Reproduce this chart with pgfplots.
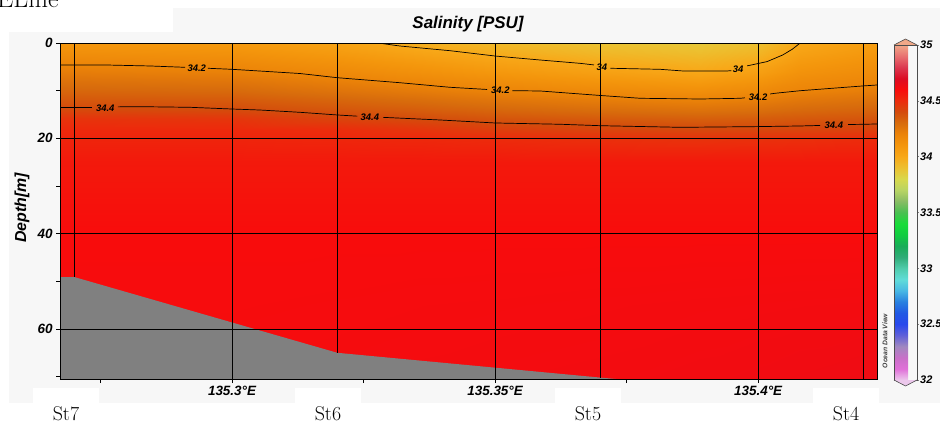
\documentclass[border=0pt]{standalone}
\usepackage{pgfplots}
\pgfplotsset{compat=1.18}
\usepackage{fontspec}
\newfontfamily\odv{Liberation Sans}
\definecolor{panel}{HTML}{F7F7F7}
\definecolor{seabed}{HTML}{808080}
\definecolor{captop}{HTML}{F0A888}
\definecolor{capbot}{HTML}{ECC8EC}
\newcommand\lblfont{\odv\bfseries\itshape}

\begin{document}
\begin{tikzpicture}[x=1bp,y=1bp]
\useasboundingbox (0,0) rectangle (940,427);
% light panel behind the section plot
\fill[panel] (9,24) rectangle (940,395);
\fill[panel] (173,395) rectangle (940,419);
\foreach \cx in {66,328,588,846}
  \fill[white] (\cx-33,24) rectangle (\cx+33,39);
\node[anchor=base west, inner sep=0, font=\fontsize{26}{28}\selectfont] at (-3,419) {ELine};

\begin{axis}[
  at={(60bp,48bp)}, anchor=south west,
  scale only axis, width=817bp, height=336bp,
  xmin=135.2673, xmax=135.4226,
  ymin=0, ymax=70.5, y dir=reverse,
  axis on top,
  colormap={odv}{
    rgb255=(236,200,236) rgb255=(224,112,216) rgb255=(200,112,200)
    rgb255=(160,136,192) rgb255=(96,96,216)   rgb255=(40,72,236)
    rgb255=(32,88,228)   rgb255=(40,128,224)  rgb255=(72,184,228)
    rgb255=(96,220,216)  rgb255=(80,204,172)  rgb255=(48,172,120)
    rgb255=(24,172,88)   rgb255=(16,204,64)   rgb255=(24,220,56)
    rgb255=(72,192,80)   rgb255=(136,188,100) rgb255=(184,212,100)
    rgb255=(216,216,76)  rgb255=(236,192,48)  rgb255=(248,168,24)
    rgb255=(244,150,12)  rgb255=(236,132,8)   rgb255=(216,108,12)
    rgb255=(212,76,12)   rgb255=(236,44,12)   rgb255=(248,12,12)
    rgb255=(220,12,36)   rgb255=(220,56,80)   rgb255=(232,112,112)
    rgb255=(240,168,136)},
  point meta min=32, point meta max=35,
  xtick={135.3,135.35,135.4},
  xticklabels={135.3°E,135.35°E,135.4°E},
  minor xtick={135.275,135.325,135.375},
  ytick={0,20,40,60}, yticklabels={0,20,40,60},
  minor ytick={10,30,50,70},
  xtick pos=bottom, ytick pos=left, tick align=outside,
  major tick length=4bp, minor tick length=4bp,
  tick style={black, line width=0.6bp},
  grid=major, major grid style={black, line width=0.8bp},
  axis line style={black, line width=0.8bp},
  ticklabel style={font=\lblfont\fontsize{13.5}{15}\selectfont},
  colorbar right,
  colorbar shift/.style={xshift=17bp, yshift=-2bp},
  colorbar style={
    name=cb,
    at={(parent axis.north east)}, anchor=north west,
    scale only axis, width=23bp, height=335bp,
    ytick={32,32.5,33,33.5,34,34.5,35},
    yticklabels={32,32.5,33,33.5,34,34.5,35},
    minor ytick={}, grid=none,
    ytick pos=right, yticklabel pos=right, tick align=outside,
    major tick length=2bp, tick style={black!50, line width=0.5bp},
    axis line style={black!70, line width=0.6bp},
    yticklabel style={font=\lblfont\fontsize{11}{12}\selectfont, inner sep=1bp},
  },
]

% salinity field (PSU), rows at fixed depth, stations along x
\addplot[surf, shader=interp, point meta=explicit, mesh/cols=11]
  table[x=x, y=y, meta=s] {
x y s
135.2673 0 34.10
135.3 0 34.08
135.32 0 34.03
135.336 0 33.97
135.35 0 33.93
135.37 0 33.89
135.389 0 33.87
135.4 0 33.90
135.408 0 34.00
135.42 0 34.05
135.4226 0 34.06

135.2673 2 34.143
135.3 2 34.124
135.32 2 34.077
135.336 2 34.026
135.35 2 33.982
135.37 2 33.938
135.389 2 33.914
135.4 2 33.947
135.408 2 34.04
135.42 2 34.083
135.4226 2 34.092

135.2673 4 34.187
135.3 4 34.167
135.32 4 34.123
135.336 4 34.078
135.35 4 34.036
135.37 4 33.986
135.389 4 33.959
135.4 4 33.993
135.408 4 34.08
135.42 4 34.117
135.4226 4 34.124

135.2673 6 34.231
135.3 6 34.212
135.32 6 34.17
135.336 6 34.13
135.35 6 34.092
135.37 6 34.044
135.389 6 34.005
135.4 6 34.049
135.408 6 34.12
135.42 6 34.15
135.4226 6 34.155

135.2673 8 34.276
135.3 8 34.26
135.32 8 34.218
135.336 8 34.182
135.35 8 34.147
135.37 8 34.106
135.389 8 34.073
135.4 8 34.107
135.408 8 34.16
135.42 8 34.183
135.4226 8 34.187

135.2673 10 34.32
135.3 10 34.308
135.32 10 34.269
135.336 10 34.236
135.35 10 34.203
135.37 10 34.169
135.389 10 34.141
135.4 10 34.165
135.408 10 34.2
135.42 10 34.225
135.4226 10 34.229

135.2673 12 34.364
135.3 12 34.356
135.32 12 34.321
135.336 12 34.292
135.35 12 34.261
135.37 12 34.231
135.389 12 34.208
135.4 12 34.225
135.408 12 34.254
135.42 12 34.274
135.4226 12 34.278

135.2673 14 34.413
135.3 14 34.405
135.32 14 34.372
135.336 14 34.347
135.35 14 34.319
135.37 14 34.294
135.389 14 34.276
135.4 14 34.288
135.408 14 34.308
135.42 14 34.324
135.4226 14 34.327

135.2673 16 34.48
135.3 16 34.472
135.32 16 34.43
135.336 16 34.403
135.35 16 34.377
135.37 16 34.357
135.389 16 34.343
135.4 16 34.351
135.408 16 34.362
135.42 16 34.374
135.4226 16 34.376

135.2673 18 34.51
135.3 18 34.508
135.32 18 34.497
135.336 18 34.47
135.35 18 34.44
135.37 18 34.422
135.389 18 34.41
135.4 18 34.415
135.408 18 34.42
135.42 18 34.431
135.4226 18 34.433

135.2673 20 34.524
135.3 20 34.523
135.32 20 34.517
135.336 20 34.511
135.35 20 34.502
135.37 20 34.488
135.389 20 34.477
135.4 20 34.482
135.408 20 34.487
135.42 20 34.498
135.4226 20 34.5

135.2673 25 34.56
135.3 25 34.56
135.32 25 34.56
135.336 25 34.56
135.35 25 34.56
135.37 25 34.56
135.389 25 34.56
135.4 25 34.56
135.408 25 34.56
135.42 25 34.56
135.4226 25 34.56

135.2673 30 34.573
135.3 30 34.573
135.32 30 34.573
135.336 30 34.573
135.35 30 34.573
135.37 30 34.573
135.389 30 34.573
135.4 30 34.573
135.408 30 34.573
135.42 30 34.573
135.4226 30 34.573

135.2673 40 34.6
135.3 40 34.6
135.32 40 34.6
135.336 40 34.6
135.35 40 34.6
135.37 40 34.6
135.389 40 34.6
135.4 40 34.6
135.408 40 34.6
135.42 40 34.6
135.4226 40 34.6

135.2673 55 34.605
135.3 55 34.605
135.32 55 34.607
135.336 55 34.609
135.35 55 34.61
135.37 55 34.612
135.389 55 34.614
135.4 55 34.615
135.408 55 34.616
135.42 55 34.617
135.4226 55 34.618

135.2673 70.5 34.61
135.3 70.5 34.61
135.32 70.5 34.612
135.336 70.5 34.614
135.35 70.5 34.616
135.37 70.5 34.618
135.389 70.5 34.622
135.4 70.5 34.625
135.408 70.5 34.628
135.42 70.5 34.632
135.4226 70.5 34.633
};

% sea floor
\addplot[fill=seabed, draw=none] coordinates {
  (135.2673,49.1) (135.27,49.1) (135.32,65.0) (135.37,70.2)
  (135.38,71.2) (135.38,75) (135.2673,75)};

% station casts
\addplot[black, line width=0.8bp] coordinates {(135.27,0) (135.27,49.1)};
\addplot[black, line width=0.8bp] coordinates {(135.32,0) (135.32,65.0)};
\addplot[black, line width=0.8bp] coordinates {(135.37,0) (135.37,70.2)};
\addplot[black, line width=0.8bp] coordinates {(135.42,0) (135.42,70.5)};

% isohaline 34.0
\addplot[black, line width=0.7bp] coordinates {
  (135.3278,0) (135.3319,0.63) (135.3414,1.61) (135.35,2.73)
  (135.3586,3.57) (135.3662,4.27) (135.3688,4.6)};
\addplot[black, line width=0.7bp] coordinates {
  (135.3719,5.3) (135.3814,5.52) (135.3857,5.87) (135.3941,5.87) (135.3949,5.8)};
\addplot[black, line width=0.7bp] coordinates {
  (135.3979,4.8) (135.4017,3.9) (135.4047,2.5) (135.4065,1.3) (135.4080,0)};

% isohaline 34.2
\addplot[black, line width=0.7bp] coordinates {
  (135.2673,4.61) (135.2759,4.61) (135.2844,4.82) (135.2911,5.1)};
\addplot[black, line width=0.7bp] coordinates {
  (135.2954,5.3) (135.3,5.52) (135.3129,6.40) (135.32,7.28) (135.3319,8.33)
  (135.3414,9.29) (135.3485,9.75)};
\addplot[black, line width=0.7bp] coordinates {
  (135.3533,10.0) (135.3586,10.07) (135.37,11.01) (135.3776,11.6)
  (135.389,11.75) (135.3966,11.6) (135.3975,11.5)};
\addplot[black, line width=0.7bp] coordinates {
  (135.4023,10.7) (135.4032,10.55) (135.408,10.01) (135.4198,9.02) (135.4226,8.81)};

% isohaline 34.4
\addplot[black, line width=0.7bp] coordinates {(135.2673,13.57) (135.2734,13.57)};
\addplot[black, line width=0.7bp] coordinates {
  (135.2783,13.4) (135.2825,13.36) (135.292,13.49) (135.3,13.85)
  (135.3053,14.06) (135.3129,14.54) (135.32,15.1) (135.3238,15.35)};
\addplot[black, line width=0.7bp] coordinates {
  (135.3287,15.6) (135.3395,16.15) (135.35,16.78) (135.3624,17.05)
  (135.37,17.35) (135.3852,17.69) (135.3994,17.55) (135.408,17.41) (135.4118,17.3)};
\addplot[black, line width=0.7bp] coordinates {
  (135.4171,17.1) (135.4198,17.06) (135.4226,16.99)};

% contour labels
\begin{scope}[every node/.style={font=\lblfont\fontsize{9.5}{10}\selectfont, inner sep=0}]
\node at (axis cs:135.3703,5.03) {34};
\node at (axis cs:135.3962,5.45) {34};
\node at (axis cs:135.2933,5.24) {34.2};
\node at (axis cs:135.3510,9.86) {34.2};
\node at (axis cs:135.4,11.33) {34.2};
\node at (axis cs:135.2759,13.6) {34.4};
\node at (axis cs:135.3262,15.52) {34.4};
\node at (axis cs:135.4144,17.2) {34.4};
\end{scope}
\end{axis}

% pointed ends of the colour bar
\filldraw[fill=captop, draw=black!70, line width=0.6bp]
  (cb.north west) -- ([yshift=6bp]cb.north) -- (cb.north east);
\filldraw[fill=capbot, draw=black!70, line width=0.6bp]
  (cb.south west) -- ([yshift=-6bp]cb.south) -- (cb.south east);

\node[font=\lblfont\fontsize{17}{19}\selectfont, anchor=base] at (468,398) {Salinity [PSU]};
\node[font=\lblfont\fontsize{16}{18}\selectfont, rotate=90] at (22,219) {Depth[m]};
\node[font=\lblfont\fontsize{6.8}{7}\selectfont, text=black!75, rotate=90] at (885,86) {Ocean Data View};

% station names
\begin{scope}[every node/.style={anchor=base, font=\fontsize{20}{22}\selectfont}]
\node at (66,7) {St7};
\node at (328,7) {St6};
\node at (588,7) {St5};
\node at (846,7) {St4};
\end{scope}
\end{tikzpicture}
\end{document}
